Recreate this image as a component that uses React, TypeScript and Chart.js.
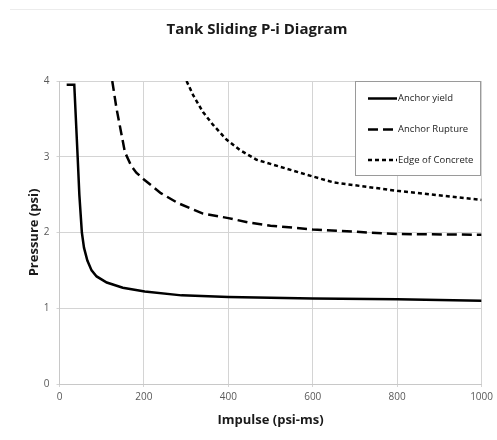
import React, { useEffect, useRef } from "react";
import { Chart, registerables } from "chart.js";

Chart.register(...registerables);

const chartTitle = "Tank Sliding P-i Diagram";
const xTitle = "Impulse (psi-ms)";
const yTitle = "Pressure (psi)";

const yieldX = [17, 35, 43, 47, 53, 58, 66, 76, 88, 112, 150, 202, 289, 400, 600, 800, 1000];
const yieldY = [3.95, 3.95, 3.0, 2.5, 2.0, 1.8, 1.63, 1.5, 1.42, 1.34, 1.27, 1.22, 1.17, 1.15, 1.13, 1.12, 1.1];

const ruptureX = [125, 135, 155, 170, 182, 200, 240, 280, 340, 400, 450, 500, 600, 800, 1000];
const ruptureY = [4.0, 3.64, 3.06, 2.88, 2.79, 2.7, 2.52, 2.39, 2.25, 2.19, 2.13, 2.09, 2.04, 1.98, 1.97];

const edgeX = [301, 317, 340, 364, 395, 427, 467, 600, 650, 800, 1000];
const edgeY = [4.0, 3.81, 3.59, 3.42, 3.23, 3.09, 2.96, 2.74, 2.66, 2.55, 2.43];

const seriesLabels = ["Anchor yield", "Anchor Rupture", "Edge of Concrete"];
const seriesDashes: number[][] = [[], [10, 5], [4, 3]];

const zip = (xs: number[], ys: number[]) => xs.map((x, i) => ({ x, y: ys[i] }));

const FONT = "'Open Sans', 'Liberation Sans', sans-serif";

const decorPlugin = {
  id: "decor",
  beforeDraw(chart: any) {
    const ctx = chart.ctx;
    ctx.save();
    ctx.strokeStyle = "#ececec";
    ctx.lineWidth = 1;
    ctx.beginPath();
    ctx.moveTo(10, 9.5);
    ctx.lineTo(497, 9.5);
    ctx.stroke();
    ctx.fillStyle = "#1a1a1a";
    ctx.font = `bold 15px ${FONT}`;
    ctx.textAlign = "center";
    ctx.textBaseline = "middle";
    ctx.fillText(chartTitle, 257, 30);
    ctx.restore();
  },
  afterDraw(chart: any) {
    const ctx = chart.ctx;
    const bx = 355.5, by = 81.5, bw = 125, bh = 94;
    ctx.save();
    ctx.fillStyle = "#ffffff";
    ctx.fillRect(bx, by, bw, bh);
    ctx.strokeStyle = "#9a9a9a";
    ctx.lineWidth = 1;
    ctx.strokeRect(bx, by, bw, bh);
    const rows = [98.5, 129.5, 160];
    chart.data.datasets.forEach((ds: any, i: number) => {
      const y = rows[i];
      ctx.strokeStyle = "#000";
      ctx.lineWidth = 2.5;
      ctx.setLineDash(ds.borderDash || []);
      ctx.beginPath();
      ctx.moveTo(368, y);
      ctx.lineTo(397, y);
      ctx.stroke();
      ctx.setLineDash([]);
      ctx.fillStyle = "#222";
      ctx.font = `9.5px ${FONT}`;
      ctx.textBaseline = "middle";
      ctx.textAlign = "left";
      ctx.fillText(ds.label, 398, y);
    });
    ctx.restore();
  },
};

export default function App() {
  const ref = useRef<HTMLCanvasElement>(null);
  useEffect(() => {
    if (!ref.current) return;
    const series = [zip(yieldX, yieldY), zip(ruptureX, ruptureY), zip(edgeX, edgeY)];
    const chart = new Chart(ref.current, {
      type: "line",
      data: {
        datasets: series.map((d, i) => ({
          label: seriesLabels[i],
          data: d,
          borderColor: "#000",
          borderWidth: 2.5,
          borderDash: seriesDashes[i],
          pointRadius: 0,
          tension: 0,
          fill: false,
        })),
      },
      options: {
        responsive: false,
        animation: false,
        layout: { padding: { left: 0, right: 15.3, top: 81, bottom: 0 } },
        plugins: {
          legend: { display: false },
          tooltip: { enabled: false },
          title: { display: false },
        },
        scales: {
          x: {
            type: "linear",
            min: 0,
            max: 1000,
            afterFit: (s: any) => { s.height = 56; },
            ticks: {
              stepSize: 200,
              color: "#595959",
              font: { family: FONT, size: 10 },
              padding: 4,
              maxRotation: 0,
              callback: (v: any) => String(v),
            },
            grid: { color: "#d4d4d4", lineWidth: 1, tickLength: 3 },
            border: { color: "#c8c8c8" },
            title: {
              display: true,
              text: xTitle,
              color: "#1a1a1a",
              font: { family: FONT, size: 13, weight: "bold", lineHeight: 1.2 },
              padding: { top: 0, bottom: 12.2 },
            },
          },
          y: {
            type: "linear",
            min: 0,
            max: 4,
            afterFit: (s: any) => { s.width = 59.5; },
            ticks: { stepSize: 1, color: "#595959", font: { family: FONT, size: 10 }, padding: 7 },
            grid: { color: "#d4d4d4", lineWidth: 1, tickLength: 3 },
            border: { color: "#c8c8c8" },
            title: {
              display: true,
              text: yTitle,
              color: "#1a1a1a",
              font: { family: FONT, size: 13, weight: "bold", lineHeight: 1.2 },
              padding: { top: 26, bottom: 0 },
            },
          },
        },
      },
      plugins: [decorPlugin],
    });
    return () => chart.destroy();
  }, []);
  return (
    <div style={{ position: "fixed", left: 0, top: 0, width: 497, height: 440, background: "#fff" }}>
      <canvas ref={ref} width={497} height={440} style={{ display: "block" }} />
    </div>
  );
}
